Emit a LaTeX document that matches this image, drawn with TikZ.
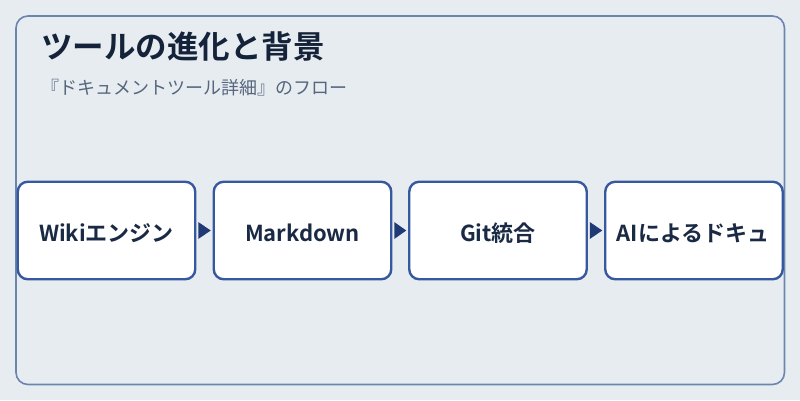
\documentclass[tikz,border=0pt]{standalone}
\usepackage{fontspec}
\setmainfont{Noto Sans CJK JP}
\newfontfamily\jpbold{Noto Sans CJK JP Bold}
\definecolor{bgc}{HTML}{E7ECF1}
\definecolor{framec}{HTML}{6C84B0}
\definecolor{titlec}{HTML}{14233A}
\definecolor{subc}{HTML}{56667D}
\definecolor{boxc}{HTML}{35589E}
\definecolor{arrc}{HTML}{1F3A75}
\definecolor{txtc}{HTML}{1A2A44}
\tikzset{
  stepbox/.style={draw=boxc, line width=2.4pt, fill=white, rounded corners=10pt,
    minimum width=177.5pt, minimum height=97.5pt, inner sep=0pt},
  boxtext/.style={font=\jpbold\fontsize{22}{25}\selectfont, text=txtc},
  flowarrow/.style={fill=arrc, draw=none}
}
\begin{document}
\begin{tikzpicture}[x=1pt,y=-1pt]
\useasboundingbox (0,0) rectangle (800,400);
\fill[bgc] (0,0) rectangle (800,400);
\draw[framec, line width=1.6pt, rounded corners=12pt] (16,16) rectangle (784.5,384.5);
\node[anchor=west, font=\jpbold\fontsize{31.5}{35}\selectfont, text=titlec, inner sep=0pt] (title) at (41,46.5) {ツールの進化と背景};
\node[anchor=west, font=\fontsize{18}{21}\selectfont, text=subc, inner sep=0pt] (sub) at (41,87.5) {『ドキュメントツール詳細』のフロー};
\node[stepbox] (b1) at (106.5,230.5) {};
\node[stepbox] (b2) at (302.5,230.5) {};
\node[stepbox] (b3) at (498,230.5) {};
\node[stepbox] (b4) at (694,230.5) {};
\node[boxtext] (t1) at ([yshift=-2.5pt]b1.center) {Wikiエンジン};
\node[boxtext] (t2) at ([yshift=-2.5pt]b2.center) {Markdown};
\node[boxtext] (t3) at ([yshift=-2.5pt]b3.center) {Git統合};
\node[boxtext, anchor=west, inner sep=0pt] (t4) at ([xshift=12.5pt,yshift=-2.5pt]b4.west) {AIによるドキュ};
\draw[framec, line width=1.6pt] (784.5,200) -- (784.5,260);
\foreach \a/\b in {b1/b2,b2/b3,b3/b4}{
  \path[flowarrow] ([xshift=1.8pt,yshift=-8.5pt]\a.east) -- ([xshift=1.8pt,yshift=8.5pt]\a.east) -- ([xshift=-1.8pt]\b.west) -- cycle;
}
\end{tikzpicture}
\end{document}
